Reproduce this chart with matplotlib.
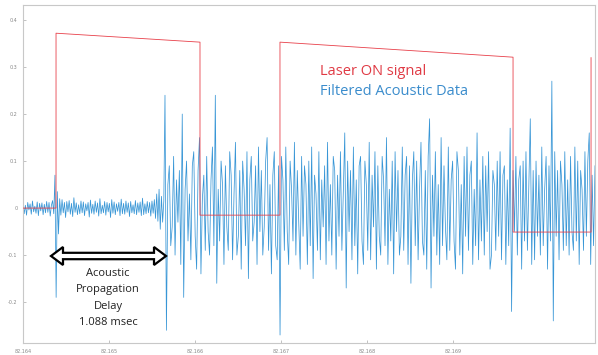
import numpy as np
import matplotlib
matplotlib.use("Agg")
import matplotlib.pyplot as plt
from matplotlib.patches import Polygon

# ---------------- data ----------------
t_start = 82.16400
t_onset = 82.165651   # acoustic arrival
t_end = 82.170651

# laser ON signal (step points)
laser_t = [82.16400, 82.164384, 82.164384, 82.166058, 82.166058, 82.166988,
           82.166988, 82.169698, 82.169698, 82.170605, 82.170605]
laser_v = [0.000, 0.000, 0.372, 0.353, -0.015, -0.015,
           0.353, 0.321, -0.051, -0.051, 0.320]

# filtered acoustic data, quiet part (before arrival)
quiet_v = [0.010, -0.012, 0.006, -0.015, 0.012, -0.004, 0.009, -0.013, 0.015, -0.008,
           0.004, -0.011, 0.013, -0.016, 0.010, -0.006, 0.011, -0.014, 0.008, -0.010,
           0.014, -0.009, 0.012, -0.017, 0.006, 0.016, -0.012, 0.070, -0.190, 0.035,
           -0.055, 0.020, -0.015, 0.018, -0.010, 0.012, -0.020, 0.014, -0.008, 0.016,
           -0.013, 0.010, -0.018, 0.022, -0.009, 0.011, -0.014, 0.007, -0.012, 0.015,
           -0.010, 0.013, -0.016, 0.009, -0.006, 0.012, -0.019, 0.017, -0.011, 0.008,
           -0.013, 0.015, -0.009, 0.011, -0.017, 0.020, -0.012, 0.006, -0.010, 0.014,
           -0.015, 0.012, -0.008, 0.010, -0.020, 0.018, -0.011, 0.013, -0.014, 0.009,
           -0.007, 0.012, -0.016, 0.019, -0.012, 0.010, -0.013, 0.015, -0.009, 0.011,
           -0.018, 0.014, -0.010, 0.007, -0.012, 0.016, -0.014, 0.011, -0.009, 0.013,
           -0.016, 0.021, -0.014, 0.009, -0.012, 0.014, -0.010, 0.012, -0.017, 0.015,
           -0.011, 0.018, -0.022, 0.030, -0.028, 0.040, -0.045, 0.025, -0.030, 0.015]

# filtered acoustic data, after arrival
loud_v = [0.24, -0.26, 0.05, 0.09, -0.08, -0.04, 0.11, -0.10, 0.06, -0.03,
          0.08, -0.12, 0.20, -0.19, 0.04, 0.10, -0.07, 0.03, -0.11, 0.09,
          0.12, -0.06, -0.13, 0.08, 0.15, -0.14, 0.02, 0.07, -0.09, 0.11,
          -0.05, -0.10, 0.06, 0.13, -0.08, 0.24, -0.16, 0.04, -0.07, 0.10,
          0.05, -0.12, 0.09, -0.04, -0.09, 0.12, 0.07, -0.11, 0.03, 0.14,
          -0.10, -0.06, 0.08, -0.13, 0.10, 0.04, -0.08, 0.12, -0.15, 0.06,
          0.11, -0.07, -0.03, 0.09, -0.12, 0.13, -0.05, 0.08, -0.10, -0.04,
          0.10, 0.15, -0.09, 0.05, -0.14, 0.07, 0.12, -0.08, -0.11, 0.09,
          -0.27, 0.11, 0.06, -0.09, 0.13, -0.05, -0.12, 0.10, 0.04, -0.07,
          0.14, -0.10, 0.08, -0.03, -0.13, 0.11, -0.06, 0.09, 0.05, -0.12,
          0.10, -0.08, 0.13, -0.15, 0.07, 0.03, -0.09, 0.12, -0.11, 0.06,
          -0.04, 0.09, -0.12, 0.14, -0.07, 0.05, -0.10, 0.11, 0.08, -0.13,
          0.07, -0.06, 0.12, -0.09, 0.04, 0.16, -0.17, 0.10, -0.05, 0.08,
          -0.11, 0.13, -0.08, 0.06, -0.14, 0.09, 0.11, -0.07, -0.12, 0.10,
          0.05, -0.09, 0.14, -0.11, 0.07, -0.04, 0.12, -0.13, 0.09, -0.06,
          -0.10, 0.11, 0.06, -0.08, 0.15, -0.12, 0.04, -0.07, 0.10, -0.14,
          0.12, -0.05, 0.08, -0.10, -0.06, 0.13, -0.09, 0.07, 0.11, -0.12,
          0.09, -0.16, 0.06, 0.12, -0.08, 0.10, -0.11, 0.04, 0.14, -0.07,
          -0.10, 0.08, -0.13, 0.11, 0.19, -0.17, 0.07, -0.06, 0.12, -0.10,
          0.05, -0.12, 0.15, -0.08, 0.09, -0.04, -0.11, 0.13, -0.09, 0.06,
          0.10, -0.07, -0.13, 0.12, 0.08, -0.10, 0.05, -0.14, 0.11, -0.06,
          0.13, -0.09, 0.07, 0.10, -0.12, 0.04, -0.08, 0.16, -0.11, 0.06,
          -0.07, 0.11, -0.10, 0.09, -0.05, 0.12, -0.13, -0.10, 0.08, 0.05,
          -0.09, 0.10, -0.06, 0.12, -0.11, 0.07, 0.09, -0.12, 0.06, -0.08,
          0.17, -0.22, 0.08, -0.05, 0.11, -0.10, 0.06, 0.09, -0.13, 0.10,
          -0.07, 0.12, -0.09, 0.05, 0.19, -0.12, 0.08, -0.11, 0.10, -0.06,
          0.07, -0.10, 0.13, -0.08, 0.04, 0.11, -0.13, 0.09, -0.07, 0.27,
          -0.24, 0.12, -0.06, 0.08, -0.11, 0.10, 0.05, -0.09, 0.12, -0.08,
          0.06, -0.10, 0.11, -0.05, -0.09, 0.13, -0.07, 0.10, -0.12, 0.08,
          0.04, -0.09, 0.12, -0.06, 0.10, 0.16, -0.12, 0.07, -0.08, 0.09]

xticks = [82.164, 82.165, 82.166, 82.167, 82.168, 82.169]
xtick_labels = ["82.164", "82.165", "82.166", "82.167", "82.168", "82.169"]
yticks = [-0.2, -0.1, 0.0, 0.1, 0.2, 0.3, 0.4]
ytick_labels = ["-0.2", "-0.1", "0", "0.1", "0.2", "0.3", "0.4"]

annot_lines = ["Acoustic", "Propagation", "Delay", "1.088 msec"]
label_laser = "Laser ON signal"
label_acoustic = "Filtered Acoustic Data"

# ---------------- plot ----------------
W, H = 598, 355
fig = plt.figure(figsize=(W / 100, H / 100), dpi=100)
ax_l, ax_r, ax_t, ax_b = 23, 595, 5, 343
ax = fig.add_axes([ax_l / W, 1 - ax_b / H, (ax_r - ax_l) / W, (ax_b - ax_t) / H])

quiet_t = np.linspace(t_start, t_onset, len(quiet_v), endpoint=False)
loud_t = np.linspace(t_onset, t_end, len(loud_v))
blue_t = np.concatenate([quiet_t, loud_t])
blue_v = np.concatenate([quiet_v, loud_v])

ax.plot(blue_t, blue_v, color="#3896d6", lw=0.55, zorder=2)
ax.plot(laser_t, laser_v, color="#e8404a", lw=0.6, zorder=3)

ax.set_xlim(t_start, t_end)
ax.set_ylim(-0.287, 0.432)
ax.set_xticks(xticks)
ax.set_xticklabels(xtick_labels)
ax.set_yticks(yticks)
ax.set_yticklabels(ytick_labels)
ax.tick_params(direction="in", length=2.5, width=0.5, labelsize=3.5,
               colors="#aaaaaa", labelcolor="#888888", pad=4)
for s in ax.spines.values():
    s.set_color("#c8c8c8")
    s.set_linewidth(0.8)

font = "Open Sans"


def px2ax(px, py):
    return ((px - ax_l) / (ax_r - ax_l), 1 - (py - ax_t) / (ax_b - ax_t))


# labels
ax.text(*px2ax(320, 71), label_laser, transform=ax.transAxes, color="#e03a44",
        fontsize=10.5, family=font, va="center", ha="left")
ax.text(*px2ax(320, 91), label_acoustic, transform=ax.transAxes, color="#3a8ccc",
        fontsize=10.5, family=font, va="center", ha="left")

# hollow double arrow
x0, x1, yc = 51, 166, 256
hh, sh, hl = 9, 3.2, 12
pts_px = [(x0, yc), (x0 + hl, yc - hh), (x0 + hl, yc - sh), (x1 - hl, yc - sh),
          (x1 - hl, yc - hh), (x1, yc), (x1 - hl, yc + hh), (x1 - hl, yc + sh),
          (x0 + hl, yc + sh), (x0 + hl, yc + hh)]
poly = Polygon([px2ax(*p) for p in pts_px], closed=True, transform=ax.transAxes,
               facecolor="white", edgecolor="black", lw=1.6, zorder=5)
ax.add_patch(poly)

for k, line in enumerate(annot_lines):
    ax.text(*px2ax(108, 273 + k * 16.5), line, transform=ax.transAxes, color="#222222",
            fontsize=8, family=font, ha="center", va="center", zorder=6)

fig.savefig("out.png", dpi=100)
